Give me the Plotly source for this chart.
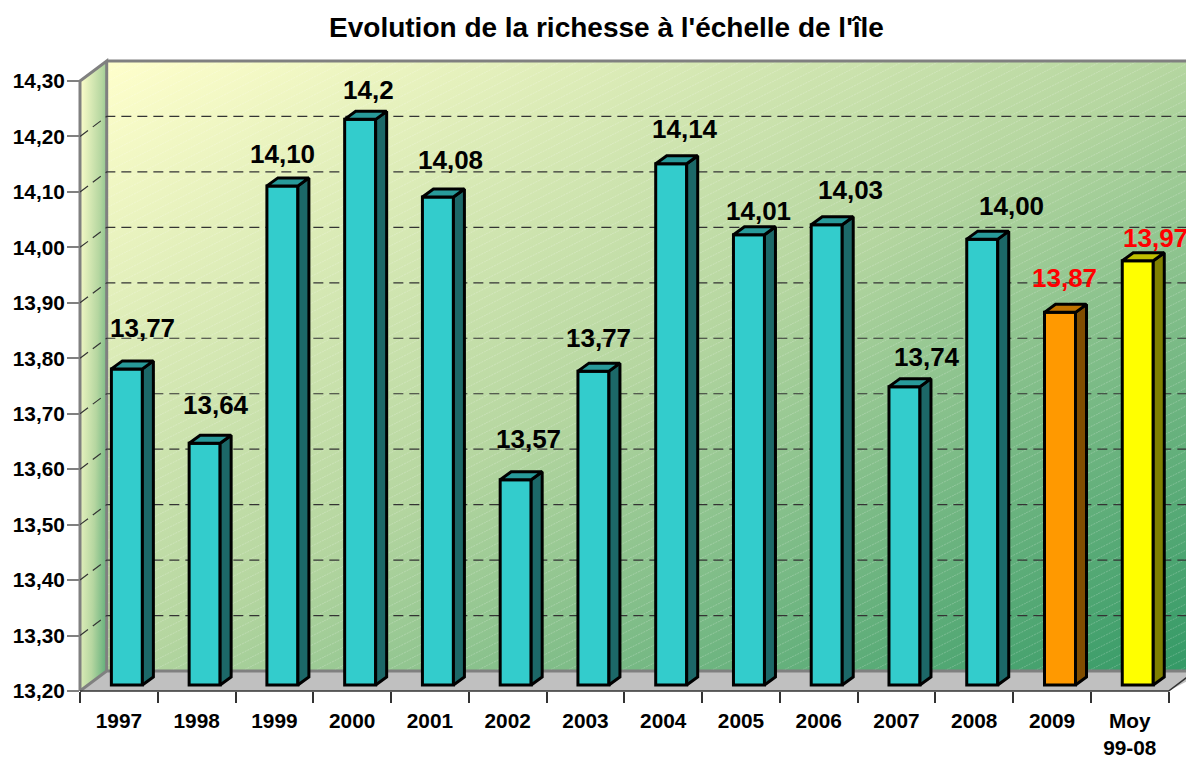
import base64
import plotly.graph_objects as go

# ---------- data ----------
categories = ["1997", "1998", "1999", "2000", "2001", "2002", "2003", "2004",
              "2005", "2006", "2007", "2008", "2009", "Moy<br>99-08"]
values = [13.77, 13.636, 14.10, 14.22, 14.08, 13.57, 13.766, 14.14,
          14.012, 14.03, 13.738, 14.004, 13.872, 13.965]
value_labels = ["13,77", "13,64", "14,10", "14,2", "14,08", "13,57", "13,77", "14,14",
                "14,01", "14,03", "13,74", "14,00", "13,87", "13,97"]
y_ticks = [13.2, 13.3, 13.4, 13.5, 13.6, 13.7, 13.8, 13.9, 14.0, 14.1, 14.2, 14.3]
y_tick_labels = ["13,20", "13,30", "13,40", "13,50", "13,60", "13,70", "13,80",
                 "13,90", "14,00", "14,10", "14,20", "14,30"]

# ---------- layout geometry / style ----------
W, H = 1186, 758
LEFT, CAT_W = 80.0, 77.76
Y_BOTTOM, Y_TOP = 691.0, 81.0
Y_MIN, Y_MAX = 13.2, 14.3
PX_Y = (Y_BOTTOM - Y_TOP) / (Y_MAX - Y_MIN)
WALL_DX, WALL_DY = 26.7, 20.0     # depth of the back wall, px
BAR_DX, BAR_DY = 8.0, 6.0         # bars stand this far into the floor
DEPTH_DX, DEPTH_DY = 11.0, 8.0    # bar depth
BAR_W = 31.0 / CAT_W
FONT = "Liberation Sans"
GREY = "#808080"
DARK = "#333333"

label_offsets = [(16, -41), (11, -38), (0, -32), (8, -29), (13, -37), (13, -41), (5, -33),
                 (14, -35), (10, -24), (24, -35), (23, -30), (29, -33), (4, -34), (18, -23)]
groups = [
    (list(range(12)), "#1C6868", "#289A9A"),
    ([12], "#804D00", "#BF7300"),
    ([13], "#808000", "#BFBF00"),
]
front_colors = ["#33CCCC"] * 12 + ["#FF9900", "#FFFF00"]
label_colors = ["black"] * 12 + ["red", "red"]

# walls, floor and frame: a decorative picture behind the plot
bx, tyb, byb = LEFT + WALL_DX, Y_TOP - WALL_DY, Y_BOTTOM - WALL_DY
fx = LEFT + 14 * CAT_W
svg = f'''<svg xmlns="http://www.w3.org/2000/svg" width="{W}" height="{H}" viewBox="0 0 {W} {H}">
<defs>
<linearGradient id="g" x1="0" y1="0" x2="1" y2="1">
<stop offset="0" stop-color="#FFFFCC"/><stop offset="0.5" stop-color="#B5D6A0"/><stop offset="1" stop-color="#339966"/></linearGradient>
<linearGradient id="s" gradientUnits="userSpaceOnUse" x1="{LEFT}" y1="{tyb}" x2="{LEFT+45}" y2="{tyb+0.8}">
<stop offset="0" stop-color="#FFFFCC"/><stop offset="0.5" stop-color="#B5D6A0"/><stop offset="1" stop-color="#339966"/></linearGradient>
<pattern id="h" patternUnits="userSpaceOnUse" width="18" height="9">
<line x1="0" y1="9" x2="18" y2="0" stroke="#ffffff" stroke-opacity="0.22" stroke-width="1" stroke-dasharray="2 1"/></pattern>
</defs>
<rect x="{bx}" y="{tyb}" width="{W-bx}" height="{byb-tyb}" fill="url(#g)"/>
<rect x="{bx}" y="{tyb}" width="{W-bx}" height="{byb-tyb}" fill="url(#h)"/>
<polygon points="{LEFT},{Y_TOP} {bx},{tyb} {bx},{byb} {LEFT},{Y_BOTTOM}" fill="url(#s)"/>
<polygon points="{LEFT},{Y_BOTTOM} {bx},{byb} {W+20},{byb} {fx},{Y_BOTTOM}" fill="#C0C0C0"/>
<path d="M{LEFT},{Y_BOTTOM} L{LEFT},{Y_TOP} L{bx},{tyb} L{bx},{byb} L{LEFT},{Y_BOTTOM} M{bx},{tyb} L{W},{tyb} M{bx},{byb} L{W},{byb}"
 fill="none" stroke="{GREY}" stroke-width="3"/>
<path d="M{LEFT},{Y_BOTTOM} L{fx},{Y_BOTTOM} L{fx+WALL_DX},{byb}" fill="none" stroke="{DARK}" stroke-width="1.5"/>
</svg>'''
src = "data:image/svg+xml;base64," + base64.b64encode(svg.encode()).decode()

fig = go.Figure()

# helpers: pixels -> data units
ux = lambda px: px / CAT_W
uy = lambda px: px / PX_Y
x0, x1 = -0.5, len(categories) - 0.5

# grid lines: side wall diagonal + back wall
gx, gy = [], []
for v in y_ticks[1:-1]:
    gx += [x0, x0 + ux(WALL_DX), x1 + 1, None]
    gy += [v, v + uy(WALL_DY), v + uy(WALL_DY), None]
fig.add_trace(go.Scatter(x=gx, y=gy, mode="lines", hoverinfo="skip", showlegend=False,
                         line=dict(color="#333333", width=1.2, dash="10px,6px")))

# bars (front faces)
xs = list(range(len(categories)))
fig.add_trace(go.Bar(x=xs, y=[v - Y_MIN for v in values], base=Y_MIN, width=BAR_W,
                     xaxis="x2", yaxis="y2", showlegend=False,
                     customdata=values, hovertemplate="%{customdata}<extra></extra>",
                     marker=dict(color=front_colors, line=dict(color="black", width=3))))

# bar side and top faces
for idx, side, top in groups:
    sx, sy, tx, ty = [], [], [], []
    for i in idx:
        r = xs[i] + BAR_W / 2
        l = xs[i] - BAR_W / 2
        v = values[i]
        ddx, ddy = ux(DEPTH_DX), uy(DEPTH_DY)
        sx += [r, r + ddx, r + ddx, r, r, None]
        sy += [Y_MIN, Y_MIN + ddy, v + ddy, v, Y_MIN, None]
        tx += [l, l + ddx, r + ddx, r, l, None]
        ty += [v, v + ddy, v + ddy, v, v, None]
    for px, py, col in ((sx, sy, side), (tx, ty, top)):
        fig.add_trace(go.Scatter(x=px, y=py, mode="lines", fill="toself", fillcolor=col,
                                 line=dict(color="black", width=3), xaxis="x2", yaxis="y2",
                                 hoverinfo="skip", showlegend=False))

# value labels
for i, (txt, v, col, (dx, dy)) in enumerate(zip(value_labels, values, label_colors, label_offsets)):
    fig.add_annotation(x=i, y=v, xref="x2", yref="y2", text=f"<b>{txt}</b>", showarrow=False,
                       xshift=dx, yshift=-dy, xanchor="center", yanchor="middle",
                       font=dict(family=FONT, size=26, color=col))

range_x = [x0, x0 + (W - LEFT) / CAT_W]
dom_x = [LEFT / W, 1]
dom_y = [(H - Y_BOTTOM) / H, (H - Y_TOP) / H]

fig.update_layout(
    width=W, height=H, margin=dict(l=0, r=0, t=0, b=0, pad=0, autoexpand=False), autosize=False,
    paper_bgcolor="white", plot_bgcolor="rgba(0,0,0,0)",
    title=dict(text="<b>Evolution de la richesse à l'échelle de l'île</b>",
               x=606.5 / W, xanchor="center", y=1 - 27 / H, yanchor="middle",
               font=dict(family=FONT, size=28, color="black")),
    images=[dict(source=src, xref="paper", yref="paper", x=0, y=1, sizex=1, sizey=1,
                 xanchor="left", yanchor="top", sizing="stretch", layer="below")],
    xaxis=dict(domain=dom_x, range=range_x, tickmode="array", tickvals=xs,
               ticktext=[f"<b>{c}</b>" for c in categories], automargin=False,
               ticks="outside", ticklen=11, tickcolor="rgba(0,0,0,0)", showgrid=False, zeroline=False,
               tickfont=dict(family=FONT, size=20.8, color="black"),
               minor=dict(tickmode="array", tickvals=[i - 0.5 for i in range(len(categories) + 1)],
                          ticks="outside", ticklen=11, tickcolor=DARK, tickwidth=1.5, showgrid=False)),
    yaxis=dict(domain=dom_y, range=[Y_MIN, Y_MAX], tickmode="array", tickvals=y_ticks,
               ticktext=[f"<b>{t}</b>" for t in y_tick_labels], ticks="outside", ticklen=12,
               ticklabelstandoff=-2, automargin=False, tickwidth=2, tickcolor=GREY,
               showgrid=False, zeroline=False, tickfont=dict(family=FONT, size=20.8, color="black")),
    xaxis2=dict(domain=dom_x, range=[r - ux(BAR_DX) for r in range_x], overlaying="x", anchor="y2",
                visible=False),
    yaxis2=dict(domain=dom_y, range=[Y_MIN - uy(BAR_DY), Y_MAX - uy(BAR_DY)], overlaying="y",
                anchor="x2", visible=False),
)

fig.write_html("out.html", config={"displayModeBar": False},
               post_script="document.body.style.margin='0';document.documentElement.style.overflow='hidden';")
